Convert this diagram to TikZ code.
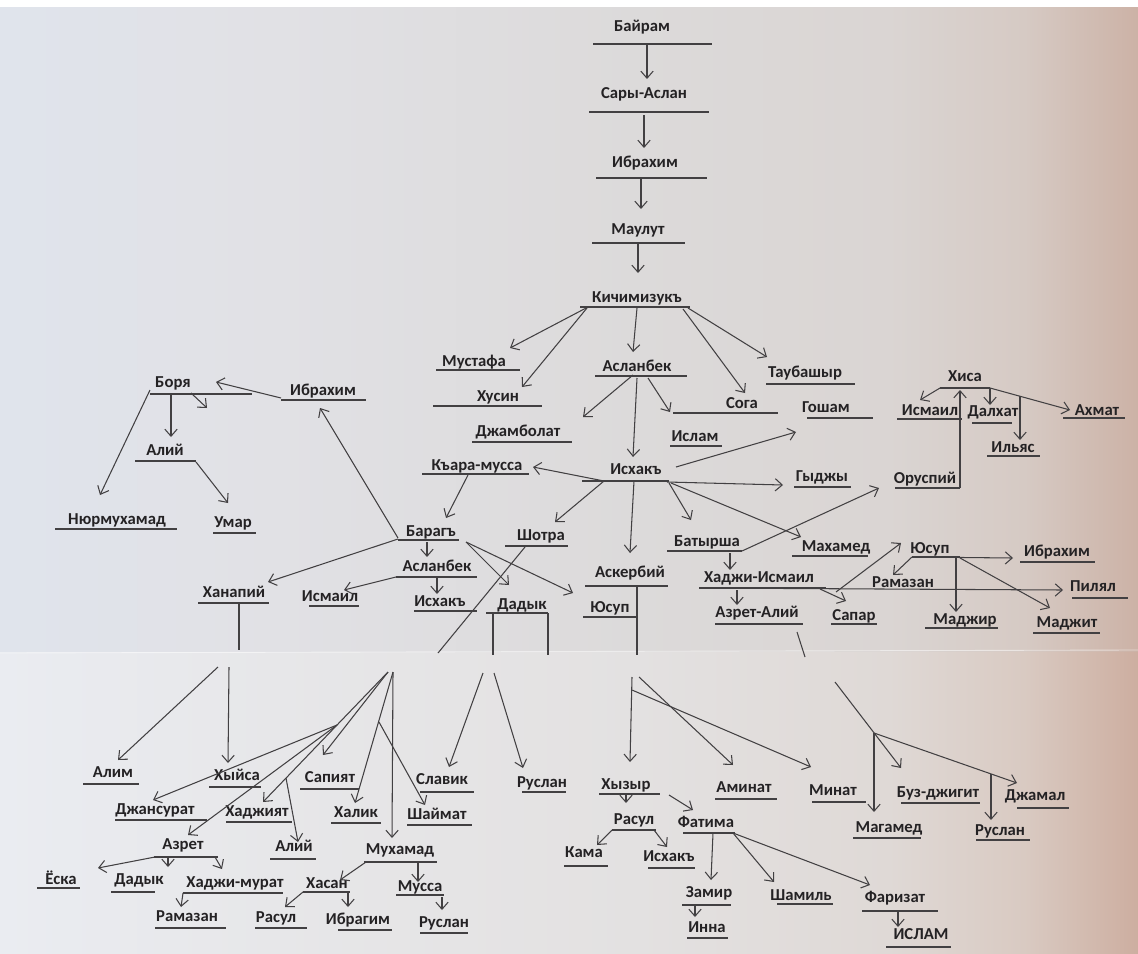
\documentclass[tikz,border=0pt]{standalone}
\usepackage{fontspec}
\setmainfont{Carlito}
\usetikzlibrary{arrows.meta}
\newcommand{\BayramTreeUnit}{0.02}
\definecolor{ink}{RGB}{36,34,36}
\definecolor{pencil}{RGB}{66,64,66}
\definecolor{paperA}{RGB}{224,228,236}
\definecolor{paperB}{RGB}{225,225,229}
\definecolor{paperC}{RGB}{220,218,218}
\definecolor{paperD}{RGB}{218,213,211}
\definecolor{paperE}{RGB}{214,202,196}
\definecolor{paperF}{RGB}{204,178,166}
\definecolor{sheetA}{RGB}{234,236,241}
\definecolor{sheetB}{RGB}{231,231,233}
\definecolor{sheetC}{RGB}{227,225,225}
\definecolor{sheetD}{RGB}{223,217,214}
\definecolor{sheetE}{RGB}{217,202,194}
\definecolor{sheetF}{RGB}{205,174,160}
\pgfdeclarehorizontalshading{upperpaper}{100bp}{color(0bp)=(paperA); color(25bp)=(paperA); color(37bp)=(paperB); color(53bp)=(paperC); color(64bp)=(paperD); color(70bp)=(paperE); color(75bp)=(paperF); color(100bp)=(paperF)}
\pgfdeclarehorizontalshading{lowerpaper}{100bp}{color(0bp)=(sheetA); color(25bp)=(sheetA); color(37bp)=(sheetB); color(53bp)=(sheetC); color(64bp)=(sheetD); color(70bp)=(sheetE); color(75bp)=(sheetF); color(100bp)=(sheetF)}

\begin{document}
\begin{tikzpicture}[x=\BayramTreeUnit cm, y=-\BayramTreeUnit cm,
		person/.style={inner sep=0pt, text height=7pt, text depth=2pt, text=ink, font=\fontsize{9.5}{11}\selectfont\bfseries},
		uline/.style={draw=pencil, line width=0.6pt},
		link/.style={draw=pencil, line width=0.6pt},
		arr/.style={link, -{Straight Barb[length=4pt,width=7pt]}}]
	\useasboundingbox (0,0) rectangle (1138,953);
	\fill[white] (0,0) rectangle (1138,8);
	\shade[shading=upperpaper] (0,8) rectangle (1138,652);
	\shade[shading=lowerpaper] (0,652) rectangle (1138,953);
	\draw[white, opacity=0.5, line width=0.5pt] (0,653) -- (1138,650);

	\node[person] (bairam) at (642,27) {Байрам};
	\node[person] (saryaslan) at (644,94) {Сары-Аслан};
	\node[person] (ibrahimA) at (645,163) {Ибрахим};
	\node[person] (maulut) at (638,230) {Маулут};
	\node[person] (kich) at (637,298) {Кичимизукъ};
	\node[person] (mustafa) at (474,362) {Мустафа};
	\node[person] (husin) at (498,397) {Хусин};
	\node[person] (aslanbekA) at (637,367) {Асланбек};
	\node[person] (soga) at (742,404) {Сога};
	\node[person] (taubashyr) at (805,373) {Таубашыр};
	\node[person] (dzhambolat) at (518,432) {Джамболат};
	\node[person] (islamA) at (695,437) {Ислам};
	\node[person] (iskhakA) at (636,470) {Исхакъ};
	\node[person] (gosham) at (826,408) {Гошам};
	\node[person] (gydzhy) at (822,477) {Гыджы};
	\node[person] (karamussa) at (477,466) {Къара-мусса};
	\node[person] (shotra) at (541,536) {Шотра};
	\node[person] (askerbiy) at (630,573) {Аскербий};
	\node[person] (batyrsha) at (707,542) {Батырша};
	\node[person] (makhamed) at (836,547) {Махамед};
	\node[person] (baragh) at (431,532) {Барагъ};
	\node[person] (ibrahimB) at (323,391) {Ибрахим};
	\node[person] (aslanbekB) at (437,567) {Асланбек};
	\node[person] (khanapiy) at (234,593) {Ханапий};
	\node[person] (ismailA) at (330,597) {Исмаил};
	\node[person] (iskhakB) at (440,602) {Исхакъ};
	\node[person] (dadykA) at (522,605) {Дадык};
	\node[person] (yusupA) at (610,608) {Юсуп};
	\node[person] (borya) at (173,383) {Боря};
	\node[person] (aliyA) at (165,451) {Алий};
	\node[person] (nyurmukhamad) at (117,520) {Нюрмухамад};
	\node[person] (umar) at (233,523) {Умар};
	\node[person] (oruspiy) at (925,479) {Оруспий};
	\node[person] (khisa) at (965,377) {Хиса};
	\node[person] (ismailB) at (930,411) {Исмаил};
	\node[person] (dalkhat) at (993,412) {Далхат};
	\node[person] (akhmat) at (1097,411) {Ахмат};
	\node[person] (ilyas) at (1013,448) {Ильяс};
	\node[person] (khadzhiismail) at (759,578) {Хаджи-Исмаил};
	\node[person] (azretaliy) at (757,613) {Азрет-Алий};
	\node[person] (sapar) at (854,616) {Сапар};
	\node[person] (yusupB) at (930,549) {Юсуп};
	\node[person] (ibrahimC) at (1057,552) {Ибрахим};
	\node[person] (ramazanA) at (903,583) {Рамазан};
	\node[person] (pilyal) at (1093,587) {Пилял};
	\node[person] (madzhir) at (965,620) {Маджир};
	\node[person] (madzhit) at (1067,623) {Маджит};
	\node[person] (alim) at (113,773) {Алим};
	\node[person] (khyysa) at (237,776) {Хыйса};
	\node[person] (sapiyat) at (330,778) {Сапият};
	\node[person] (dzhansurat) at (155,810) {Джансурат};
	\node[person] (khadzhiyat) at (257,812) {Хаджият};
	\node[person] (khalik) at (356,813) {Халик};
	\node[person] (shaymat) at (437,815) {Шаймат};
	\node[person] (azret) at (183,845) {Азрет};
	\node[person] (aliyB) at (294,847) {Алий};
	\node[person] (mukhamad) at (400,850) {Мухамад};
	\node[person] (slavik) at (442,780) {Славик};
	\node[person] (ruslanA) at (542,783) {Руслан};
	\node[person] (yoska) at (61,880) {Ёска};
	\node[person] (dadykB) at (139,880) {Дадык};
	\node[person] (khadzhimurat) at (235,883) {Хаджи-мурат};
	\node[person] (ramazanB) at (187,917) {Рамазан};
	\node[person] (khasan) at (327,884) {Хасан};
	\node[person] (mussa) at (420,887) {Мусса};
	\node[person] (rasulA) at (276,918) {Расул};
	\node[person] (ibragim) at (358,920) {Ибрагим};
	\node[person] (ruslanB) at (444,923) {Руслан};
	\node[person] (khyzyr) at (626,785) {Хызыр};
	\node[person] (aminat) at (744,788) {Аминат};
	\node[person] (minat) at (833,791) {Минат};
	\node[person] (buzdzhigit) at (938,793) {Буз-джигит};
	\node[person] (dzhamal) at (1035,796) {Джамал};
	\node[person] (magamed) at (889,828) {Магамед};
	\node[person] (ruslanC) at (1000,831) {Руслан};
	\node[person] (rasulB) at (634,820) {Расул};
	\node[person] (fatima) at (706,823) {Фатима};
	\node[person] (kama) at (584,853) {Кама};
	\node[person] (iskhakC) at (669,857) {Исхакъ};
	\node[person] (zamir) at (709,893) {Замир};
	\node[person] (inna) at (707,928) {Инна};
	\node[person] (shamil) at (801,896) {Шамиль};
	\node[person] (farizat) at (895,898) {Фаризат};
	\node[person] (islamB) at (921,935) {ИСЛАМ};

	\foreach \n/\a/\b/\d in {bairam/-49/70/17, saryaslan/-55/65/18, ibrahimA/-49/62/15, maulut/-46/47/13,
			kich/-57/53/9, mustafa/-38/46/8, husin/-65/44/9, aslanbekA/-42/50/9, soga/-69/36/9, taubashyr/-39/50/11,
			dzhambolat/-46/54/10, islamA/-25/27/9, iskhakA/-54/33/11, gosham/-19/47/10, gydzhy/-28/29/10,
			karamussa/-55/52/8, shotra/-36/27/10, askerbiy/-45/38/13, batyrsha/-40/35/9, makhamed/-44/32/9,
			baragh/-33/28/8, ibrahimB/-42/43/9, aslanbekB/-41/40/10, khanapiy/-36/35/10, ismailA/-21/29/9,
			iskhakB/-26/37/9, dadykA/-36/26/8, yusupA/-27/28/9, borya/-23/79/11, aliyA/-30/31/10,
			nyurmukhamad/-62/60/9, umar/-20/23/10, oruspiy/-30/35/9, khisa/-25/25/11, ismailB/-33/32/8,
			dalkhat/-21/19/11, akhmat/-34/28/7, ilyas/-26/27/8, khadzhiismail/-60/67/10, azretaliy/-42/46/11,
			sapar/-23/23/8, yusupB/-18/30/8, ibrahimC/-37/38/10, pilyal/-21/35/11, madzhir/-40/33/8,
			madzhit/-34/33/10, alim/-30/26/11, khyysa/-28/24/11, sapiyat/-30/29/11, dzhansurat/-40/52/10,
			khadzhiyat/-31/35/10, khalik/-25/25/10, shaymat/-30/35/10, azret/-29/35/12, aliyB/-24/22/12,
			mukhamad/-36/37/12, slavik/-22/32/12, ruslanA/-20/24/9, yoska/-24/19/8, dadykB/-28/16/12,
			khadzhimurat/-52/48/10, ramazanB/-32/39/11, khasan/-24/23/8, mussa/-24/24/8, rasulA/-21/31/10,
			ibragim/-20/34/10, ruslanB/-24/24/10, khyzyr/-27/34/9, aminat/-29/33/11, minat/-21/33/11,
			buzdzhigit/-37/42/10, dzhamal/-18/34/12, magamed/-36/32/10, ruslanC/-24/30/9, rasulB/-22/22/10,
			fatima/-23/29/10, kama/-20/24/13, iskhakC/-21/26/11, zamir/-27/22/12, inna/-20/21/10,
			shamil/-24/32/8, farizat/-33/43/13, islamB/-35/30/12}
		\draw[uline] ([shift={(\a,\d)}]\n.center) -- ([shift={(\b,\d)}]\n.center);

	\draw[arr] ([shift={(5,18)}]bairam.center) -- ([shift={(3,-15)}]saryaslan.center);
	\draw[arr] ([shift={(0,21)}]saryaslan.center) -- ([shift={(-1,-15)}]ibrahimA.center);
	\draw[arr] ([shift={(-4,15)}]ibrahimA.center) -- ([shift={(3,-21)}]maulut.center);
	\draw[arr] ([shift={(0,13)}]maulut.center) -- ([shift={(1,-25)}]kich.center);

	\draw[arr] ([shift={(-49,9)}]kich.center) -- ([shift={(36,-14)}]mustafa.center);
	\draw[arr] ([shift={(-50,10)}]kich.center) -- ([shift={(24,-10)}]husin.center);
	\draw[arr] ([shift={(0,10)}]kich.center) -- ([shift={(-4,-15)}]aslanbekA.center);
	\draw[arr] ([shift={(46,11)}]kich.center) -- ([shift={(3,-11)}]soga.center);
	\draw[arr] ([shift={(51,10)}]kich.center) -- ([shift={(-38,-16)}]taubashyr.center);

	\draw[arr] ([shift={(-4,8)}]aslanbekA.center) -- ([shift={(65,-15)}]dzhambolat.center);
	\draw[arr] ([shift={(11,11)}]aslanbekA.center) -- ([shift={(-25,-25)}]islamA.center);
	\draw[arr] ([shift={(0,11)}]aslanbekA.center) -- ([shift={(-3,-13)}]iskhakA.center);

	\draw[arr] ([shift={(40,-3)}]iskhakA.center) -- ([shift={(-30,24)}]gosham.center);
	\draw[arr] ([shift={(31,12)}]iskhakA.center) -- ([shift={(-39,8)}]gydzhy.center);
	\draw[arr] ([shift={(-32,11)}]iskhakA.center) -- ([shift={(56,1)}]karamussa.center);
	\draw[arr] ([shift={(-32,11)}]iskhakA.center) -- ([shift={(14,-14)}]shotra.center);
	\draw[arr] ([shift={(-2,11)}]iskhakA.center) -- ([shift={(0,-20)}]askerbiy.center);
	\draw[arr] ([shift={(33,13)}]iskhakA.center) -- ([shift={(-16,-22)}]batyrsha.center);
	\draw[arr] ([shift={(35,13)}]iskhakA.center) -- ([shift={(-35,-10)}]makhamed.center);

	\draw[arr] ([shift={(-9,9)}]karamussa.center) -- ([shift={(15,-14)}]baragh.center);
	\draw[arr] ([shift={(-33,6)}]baragh.center) -- ([shift={(-3,17)}]ibrahimB.center);
	\draw[arr] ([shift={(-33,7)}]baragh.center) -- ([shift={(34,-11)}]khanapiy.center);
	\draw[arr] ([shift={(-4,10)}]baragh.center) -- ([shift={(-10,-10)}]aslanbekB.center);
	\draw[arr] ([shift={(35,10)}]baragh.center) -- ([shift={(-13,-20)}]dadykA.center);
	\draw[arr] ([shift={(35,10)}]baragh.center) -- ([shift={(-37,-15)}]yusupA.center);
	\draw[arr] ([shift={(-41,10)}]aslanbekB.center) -- ([shift={(14,-7)}]ismailA.center);
	\draw[arr] ([shift={(0,11)}]aslanbekB.center) -- ([shift={(-3,-8)}]iskhakB.center);

	\draw[arr] ([shift={(-42,7)}]ibrahimB.center) -- ([shift={(43,-1)}]borya.center);
	\draw[arr] ([shift={(-23,7)}]borya.center) -- ([shift={(-17,-25)}]nyurmukhamad.center);
	\draw[arr] ([shift={(-2,10)}]borya.center) -- ([shift={(6,-14)}]aliyA.center);
	\coordinate (borya-tip) at (207,408);
	\draw[arr] ([shift={(18,10)}]borya.center) -- (borya-tip);
	\draw[arr] ([shift={(31,11)}]aliyA.center) -- ([shift={(-5,-20)}]umar.center);

	\draw[arr] ([shift={(35,9)}]batyrsha.center) -- ([shift={(-46,9)}]oruspiy.center);
	\draw[arr] ([shift={(23,11)}]batyrsha.center) -- ([shift={(-29,-8)}]khadzhiismail.center);
	\draw[arr] ([shift={(35,9)}]oruspiy.center) -- ([shift={(-5,13)}]khisa.center);
	\draw[arr] ([shift={(-25,11)}]khisa.center) -- ([shift={(-10,-11)}]ismailB.center);
	\draw[arr] ([shift={(25,11)}]khisa.center) -- ([shift={(-3,-7)}]dalkhat.center);
	\draw[arr] ([shift={(25,11)}]khisa.center) -- ([shift={(-27,-1)}]akhmat.center);
	\draw[arr] ([shift={(55,19)}]khisa.center) -- ([shift={(7,-8)}]ilyas.center);

	\draw[arr] ([shift={(-22,12)}]khadzhiismail.center) -- ([shift={(-20,-8)}]azretaliy.center);
	\draw[arr] ([shift={(61,11)}]khadzhiismail.center) -- ([shift={(-8,-15)}]sapar.center);
	\draw[arr] ([shift={(77,14)}]khadzhiismail.center) -- ([shift={(-29,-6)}]yusupB.center);
	\draw[arr] ([shift={(-60,10)}]khadzhiismail.center) -- ([shift={(-30,3)}]pilyal.center);
	\draw[arr] ([shift={(-18,8)}]yusupB.center) -- ([shift={(-44,6)}]ibrahimC.center);
	\draw[arr] ([shift={(-18,8)}]yusupB.center) -- ([shift={(-10,-8)}]ramazanA.center);
	\draw[arr] ([shift={(26,9)}]yusupB.center) -- ([shift={(-9,-8)}]madzhir.center);
	\draw[arr] ([shift={(30,9)}]yusupB.center) -- ([shift={(-17,-15)}]madzhit.center);

	\coordinate (khanapiy-cut) at (239,650);
	\coordinate (khanapiy-low1) at (218,667);
	\coordinate (khanapiy-low2) at (229,667);
	\draw[link] ([shift={(5,10)}]khanapiy.center) -- (khanapiy-cut);
	\draw[arr] (khanapiy-low1) -- ([shift={(5,-13)}]alim.center);
	\draw[arr] (khanapiy-low2) -- ([shift={(-9,-13)}]khyysa.center);

	\coordinate (shotra-cut) at (438,653);
	\coordinate (shotra-low1) at (388,672);
	\coordinate (shotra-low2) at (393,672);
	\coordinate (shotra-fork0) at (337,725);
	\coordinate (shotra-fork1) at (286,778);
	\coordinate (shotra-fork2) at (379,722);
	\draw[link] ([shift={(-16,11)}]shotra.center) -- (shotra-cut);
	\draw[arr] (shotra-low1) -- ([shift={(-7,-23)}]sapiyat.center);
	\draw[arr] (shotra-low1) -- ([shift={(6,-10)}]khadzhiyat.center);
	\draw[arr] (shotra-fork0) -- ([shift={(-2,-10)}]dzhansurat.center);
	\draw[arr] (shotra-fork0) -- ([shift={(5,-10)}]azret.center);
	\draw[arr] (shotra-fork1) -- ([shift={(4,-5)}]aliyB.center);
	\draw[arr] (shotra-low2) -- ([shift={(-1,-10)}]khalik.center);
	\draw[arr] (shotra-low2) -- ([shift={(-8,-12)}]mukhamad.center);
	\draw[arr] (shotra-fork2) -- ([shift={(-12,-10)}]shaymat.center);

	\coordinate (dadyk-cut1) at (493,655);
	\coordinate (dadyk-cut2) at (548,655);
	\coordinate (dadyk-low1) at (483,673);
	\coordinate (dadyk-low2) at (494,673);
	\draw[link] ([shift={(-29,8)}]dadykA.center) -- (dadyk-cut1);
	\draw[link] ([shift={(26,8)}]dadykA.center) -- (dadyk-cut2);
	\draw[arr] (dadyk-low1) -- ([shift={(7,-13)}]slavik.center);
	\draw[arr] (dadyk-low2) -- ([shift={(-19,-15)}]ruslanA.center);

	\coordinate (yusup-cut) at (637,655);
	\coordinate (yusup-low1) at (632,677);
	\coordinate (yusup-low2) at (639,677);
	\coordinate (yusup-fork) at (632,690);
	\draw[link] ([shift={(7,14)}]askerbiy.center) -- (yusup-cut);
	\draw[arr] (yusup-low1) -- ([shift={(4,-23)}]khyzyr.center);
	\draw[arr] (yusup-low2) -- ([shift={(-11,-23)}]aminat.center);
	\draw[arr] (yusup-fork) -- ([shift={(-22,-24)}]minat.center);

	\coordinate (azretaliy-cut) at (805,657);
	\coordinate (azretaliy-low) at (835,682);
	\coordinate (azretaliy-fork) at (874,733);
	\coordinate (azretaliy-fork2) at (991,774);
	\draw[link] ([shift={(40,19)}]azretaliy.center) -- (azretaliy-cut);
	\draw[arr] (azretaliy-low) -- ([shift={(-37,-25)}]buzdzhigit.center);
	\draw[arr] (azretaliy-fork) -- ([shift={(-18,-13)}]dzhamal.center);
	\draw[arr] (azretaliy-fork) -- ([shift={(-15,-16)}]magamed.center);
	\draw[arr] (azretaliy-fork2) -- ([shift={(-9,-11)}]ruslanC.center);

	\draw[arr] ([shift={(-28,12)}]azret.center) -- ([shift={(37,-12)}]yoska.center);
	\draw[arr] ([shift={(-15,13)}]azret.center) -- ([shift={(29,-13)}]dadykB.center);
	\draw[arr] ([shift={(32,12)}]azret.center) -- ([shift={(-13,-14)}]khadzhimurat.center);
	\draw[arr] ([shift={(-52,10)}]khadzhimurat.center) -- ([shift={(-6,-10)}]ramazanB.center);
	\draw[arr] ([shift={(-34,12)}]mukhamad.center) -- ([shift={(13,-4)}]khasan.center);
	\draw[arr] ([shift={(18,12)}]mukhamad.center) -- ([shift={(-2,-5)}]mussa.center);
	\draw[arr] ([shift={(-24,8)}]khasan.center) -- ([shift={(9,-11)}]rasulA.center);
	\draw[arr] ([shift={(21,8)}]khasan.center) -- ([shift={(-10,-13)}]ibragim.center);
	\draw[arr] ([shift={(22,10)}]mussa.center) -- ([shift={(-2,-13)}]ruslanB.center);

	\draw[arr] ([shift={(0,9)}]khyzyr.center) -- ([shift={(-8,-17)}]rasulB.center);
	\draw[arr] ([shift={(43,10)}]khyzyr.center) -- ([shift={(-13,-13)}]fatima.center);
	\draw[arr] ([shift={(-22,10)}]rasulB.center) -- ([shift={(13,-8)}]kama.center);
	\draw[arr] ([shift={(20,10)}]rasulB.center) -- ([shift={(-2,-10)}]iskhakC.center);
	\draw[arr] ([shift={(7,10)}]fatima.center) -- ([shift={(2,-13)}]zamir.center);
	\draw[arr] ([shift={(27,10)}]fatima.center) -- ([shift={(-27,-14)}]shamil.center);
	\draw[arr] ([shift={(27,10)}]fatima.center) -- ([shift={(-25,-13)}]farizat.center);
	\draw[arr] ([shift={(-14,12)}]zamir.center) -- ([shift={(-12,-11)}]inna.center);
	\draw[arr] ([shift={(3,13)}]farizat.center) -- ([shift={(-23,-8)}]islamB.center);
\end{tikzpicture}
\end{document}
